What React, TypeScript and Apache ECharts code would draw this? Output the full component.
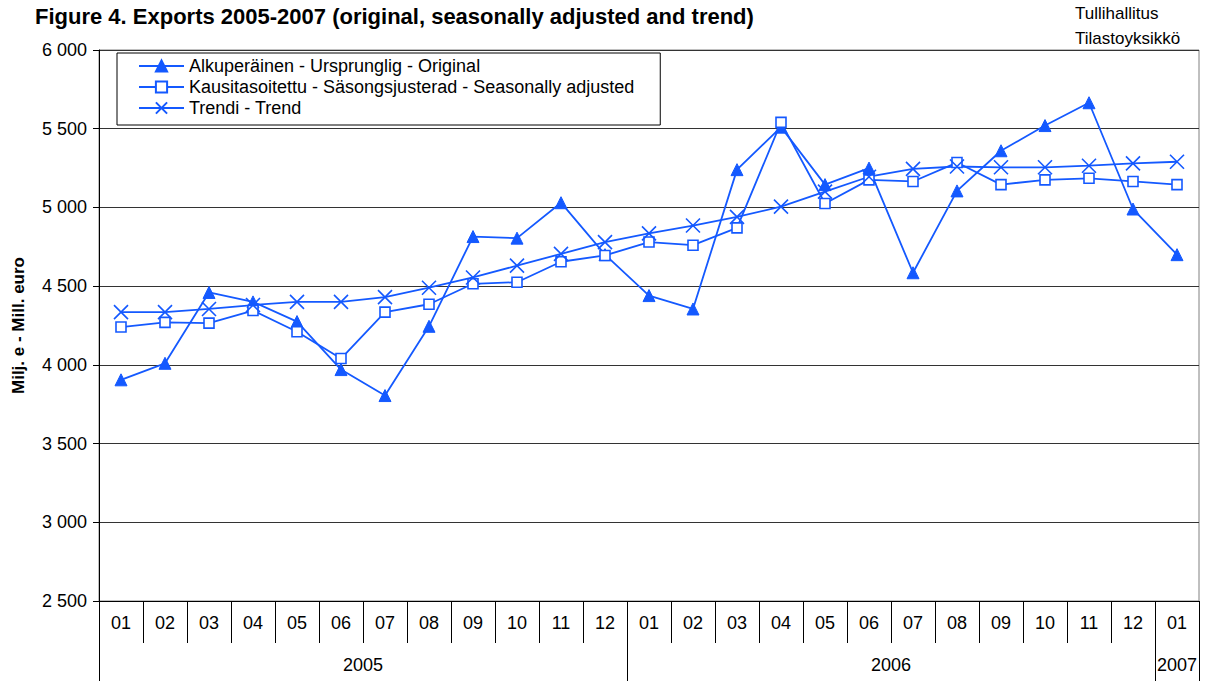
import React, { useEffect, useRef } from "react";
import * as echarts from "echarts";

const months = ["01","02","03","04","05","06","07","08","09","10","11","12","01","02","03","04","05","06","07","08","09","10","11","12","01"];
const yearSlots: string[] = Array.from({ length: 51 }, () => "");
yearSlots[12] = "2005";
yearSlots[36] = "2006";
yearSlots[49] = "2007";
const yearTickIdx = [0, 24, 48, 50];

const original = [3905, 4010, 4460, 4400, 4275, 3970, 3805, 4245, 4815, 4805, 5030, 4700, 4440, 4355, 5240, 5510, 5145, 5250, 4585, 5105, 5360, 5520, 5665, 4990, 4700];
const seasonal = [4240, 4270, 4265, 4345, 4210, 4040, 4335, 4385, 4515, 4525, 4655, 4695, 4780, 4760, 4870, 5540, 5025, 5175, 5165, 5285, 5145, 5175, 5185, 5165, 5145];
const trend = [4335, 4335, 4355, 4380, 4400, 4400, 4430, 4490, 4555, 4630, 4705, 4780, 4835, 4885, 4940, 5005, 5100, 5195, 5245, 5260, 5255, 5255, 5265, 5280, 5290];

const names = [
  "Alkuperäinen - Ursprunglig - Original",
  "Kausitasoitettu - Säsongsjusterad - Seasonally adjusted",
  "Trendi - Trend",
];

const BLUE = "#1459FF";
const FONT = "'Liberation Sans', Arial, sans-serif";

const fmt = (v: number) => {
  const th = Math.floor(v / 1000);
  const rest = String(v % 1000).padStart(3, "0");
  return th + " " + rest;
};

export default function App() {
  const ref = useRef<HTMLDivElement>(null);
  useEffect(() => {
    if (!ref.current) return;
    const chart = echarts.init(ref.current, undefined, { renderer: "svg" });
    chart.setOption({
      animation: false,
      backgroundColor: "#ffffff",
      textStyle: { fontFamily: FONT },
      title: [
        {
          text: "Figure 4. Exports 2005-2007 (original, seasonally adjusted and trend)",
          left: 30,
          top: 0,
          textStyle: { fontFamily: FONT, fontSize: 22, fontWeight: "bold", color: "#000" },
        },
        {
          text: "Tullihallitus\nTilastoyksikkö",
          left: 1075,
          top: 1,
          padding: 0,
          textStyle: { fontFamily: FONT, fontSize: 17, fontWeight: "normal", color: "#000", lineHeight: 25 },
        },
      ],
      legend: {
        orient: "vertical",
        left: 117,
        top: 53,
        padding: [4, 26, 8, 21],
        itemWidth: 45,
        itemHeight: 14,
        itemGap: 3,
        borderColor: "#000",
        borderWidth: 1,
        backgroundColor: "#fff",
        borderRadius: 0,
        textStyle: { fontFamily: FONT, fontSize: 18, color: "#000" },
        data: names,
      },
      grid: {
        left: 99,
        right: 7,
        top: 50,
        bottom: 80,
        show: true,
        borderColor: "#808080",
        borderWidth: 1,
        backgroundColor: "transparent",
      },
      xAxis: [
        {
          type: "category",
          data: months,
          position: "bottom",
          boundaryGap: true,
          axisLine: { show: true, lineStyle: { color: "#000", width: 1 } },
          axisTick: { show: true, length: 42, lineStyle: { color: "#000", width: 1 } },
          axisLabel: { margin: 13, fontFamily: FONT, fontSize: 18, color: "#000", interval: 0 },
          splitLine: { show: false },
        },
        {
          type: "category",
          data: yearSlots,
          position: "bottom",
          boundaryGap: false,
          axisLine: { show: false },
          axisTick: {
            show: true,
            length: 81,
            interval: (index: number) => yearTickIdx.includes(index),
            lineStyle: { color: "#000", width: 1 },
          },
          axisLabel: {
            margin: 55,
            fontFamily: FONT,
            fontSize: 18,
            color: "#000",
            interval: (index: number, value: string) => value !== "",
          },
          splitLine: { show: false },
        },
      ],
      yAxis: {
        type: "value",
        min: 2500,
        max: 6000,
        interval: 500,
        name: "Milj. e - Mill. euro",
        nameLocation: "middle",
        nameGap: 72,
        nameTextStyle: { fontFamily: FONT, fontSize: 17, fontWeight: "bold", color: "#000" },
        axisLine: { show: true, lineStyle: { color: "#000", width: 1 } },
        axisTick: { show: true, length: 6, lineStyle: { color: "#000" } },
        axisLabel: { margin: 12, fontFamily: FONT, fontSize: 18, color: "#000", formatter: (v: number) => fmt(v) },
        splitLine: { show: true, lineStyle: { color: "#333", width: 1 } },
      },
      series: [
        {
          name: names[0],
          type: "line",
          xAxisIndex: 0,
          data: original,
          symbol: "triangle",
          symbolSize: 12,
          lineStyle: { color: BLUE, width: 1.8 },
          itemStyle: { color: BLUE, borderColor: BLUE, borderWidth: 1 },
        },
        {
          name: names[1],
          type: "line",
          xAxisIndex: 0,
          data: seasonal,
          symbol: "rect",
          symbolSize: 10,
          lineStyle: { color: BLUE, width: 1.8 },
          itemStyle: { color: "#fff", borderColor: BLUE, borderWidth: 1.6 },
        },
        {
          name: names[2],
          type: "line",
          xAxisIndex: 0,
          data: trend,
          symbol: "path://M0,0 L10,10 M10,0 L0,10",
          symbolSize: 14,
          lineStyle: { color: BLUE, width: 1.8 },
          itemStyle: { color: "none", borderColor: BLUE, borderWidth: 1.6 },
        },
      ],
    });
    return () => chart.dispose();
  }, []);
  return (
    <div
      ref={ref}
      style={{ position: "fixed", left: 0, top: 0, width: 1206, height: 681, background: "#fff" }}
    />
  );
}
